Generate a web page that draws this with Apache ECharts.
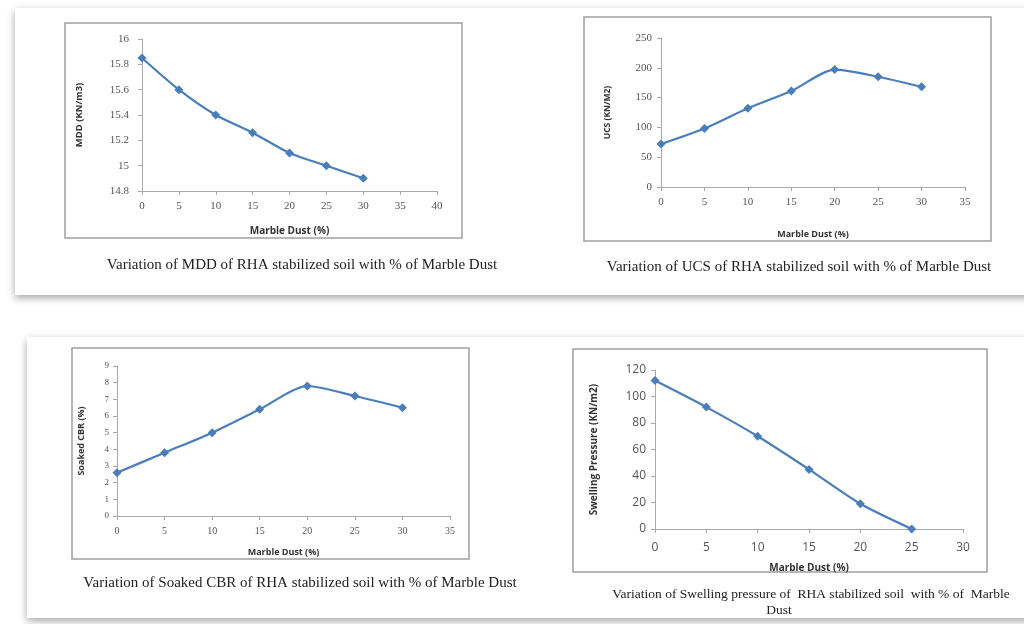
<!DOCTYPE html>
<html><head><meta charset="utf-8">
<script src="https://cdn.jsdelivr.net/npm/echarts@6/dist/echarts.min.js"></script>
<style>html,body{margin:0;padding:0;background:#fff}#c{width:1024px;height:624px}</style>
</head><body><div id="c"></div>
<script>
const marbleDust = [0, 5, 10, 15, 20, 25, 30];
const mddValues = [15.85, 15.6, 15.4, 15.26, 15.1, 15.0, 14.9];
const ucsValues = [72, 98, 132, 161, 197, 185, 168];
const cbrValues = [2.6, 3.8, 5.0, 6.4, 7.8, 7.2, 6.5];
const swellX = [0, 5, 10, 15, 20, 25];
const swellValues = [112, 92, 70, 45, 19, 0];
const captions = [
  'Variation of MDD of RHA stabilized soil with % of Marble Dust',
  'Variation of UCS of RHA stabilized soil with % of Marble Dust',
  'Variation of Soaked CBR of RHA stabilized soil with % of Marble Dust',
  'Variation of Swelling pressure of  RHA stabilized soil  with % of  Marble',
  'Dust'
];
const yTitles = ['MDD (KN/m3)', 'UCS (KN/M2)', 'Soaked CBR (%)', 'Swelling Pressure (KN/m2)'];
const xTitle = 'Marble Dust (%)';

const lineColor = '#4a7ebb';
const axisColor = '#a8a8a8';
const sansFont = 'Open Sans, DejaVu Sans, sans-serif';
const serifFont = '"Liberation Serif", "DejaVu Serif", serif';

const grids = [
  {left: 142, top: 39, width: 295, height: 152},
  {left: 661, top: 38, width: 304, height: 149},
  {left: 117, top: 366, width: 333, height: 150},
  {left: 655, top: 370, width: 308, height: 159}
];
const xCfg = [
  {max: 40, lm: 10, ng: 35, fs: 11, nfs: 10, font: serifFont},
  {max: 35, lm: 10, ng: 43, fs: 11, nfs: 9, font: serifFont},
  {max: 35, lm: 10, ng: 32, fs: 10, nfs: 9, font: serifFont},
  {max: 30, lm: 13, ng: 34, fs: 12, nfs: 10, font: sansFont}
];
const yCfg = [
  {min: 14.8, max: 16, interval: 0.2, lm: 13, ng: 58, fs: 11, nfs: 9.5, font: serifFont},
  {min: 0, max: 250, interval: 50, lm: 9, ng: 49, fs: 11, nfs: 8.5, font: serifFont},
  {min: 0, max: 9, interval: 1, lm: 8, ng: 31, fs: 9, nfs: 9, font: serifFont},
  {min: 0, max: 120, interval: 20, lm: 9, ng: 56, fs: 12, nfs: 10, font: sansFont}
];

const xAxes = xCfg.map((c, i) => ({
  type: 'value', gridIndex: i, min: 0, max: c.max, interval: 5,
  name: xTitle, nameLocation: 'middle', nameGap: c.ng,
  nameTextStyle: {fontFamily: sansFont, fontWeight: 'bold', fontSize: c.nfs, color: '#333'},
  axisLine: {lineStyle: {color: axisColor, width: 1}},
  axisTick: {show: true, inside: false, length: 4, lineStyle: {color: axisColor}},
  axisLabel: {margin: c.lm, fontSize: c.fs, fontFamily: c.font, color: '#555'},
  splitLine: {show: false}
}));
const yAxes = yCfg.map((c, i) => ({
  type: 'value', gridIndex: i, min: c.min, max: c.max, interval: c.interval,
  name: yTitles[i], nameLocation: 'middle', nameGap: c.ng, nameRotate: 90,
  nameTextStyle: {fontFamily: sansFont, fontWeight: 'bold', fontSize: c.nfs, color: '#333'},
  axisLine: {show: true, lineStyle: {color: axisColor, width: 1}},
  axisTick: {show: true, inside: false, length: 4, lineStyle: {color: axisColor}},
  axisLabel: {margin: c.lm, fontSize: c.fs, fontFamily: c.font, color: '#555',
    formatter: v => String(Math.round(v * 100) / 100)},
  splitLine: {show: false}
}));

function pairs(xs, ys) { return xs.map((x, k) => [x, ys[k]]); }
const seriesData = [
  pairs(marbleDust, mddValues),
  pairs(marbleDust, ucsValues),
  pairs(marbleDust, cbrValues),
  pairs(swellX, swellValues)
];
const series = seriesData.map((d, i) => ({
  type: 'line', xAxisIndex: i, yAxisIndex: i, data: d, smooth: 0.25,
  symbol: 'diamond', symbolSize: 9,
  lineStyle: {color: lineColor, width: 2.2},
  itemStyle: {color: lineColor},
  animation: false
}));

const cardShadow = {shadowBlur: 8, shadowColor: 'rgba(0,0,0,0.35)', shadowOffsetY: 3};
const graphic = [
  {type: 'rect', shape: {x: 15, y: 8, width: 1020, height: 287}, style: Object.assign({fill: '#fff'}, cardShadow), z: -10},
  {type: 'rect', shape: {x: 27, y: 337, width: 1010, height: 281}, style: Object.assign({fill: '#fff'}, cardShadow), z: -10},
  {type: 'rect', shape: {x: 65, y: 23, width: 397, height: 215}, style: {fill: 'none', stroke: '#a0a0a0', lineWidth: 1.5}, z: -5},
  {type: 'rect', shape: {x: 584, y: 17, width: 407, height: 224}, style: {fill: 'none', stroke: '#a0a0a0', lineWidth: 1.5}, z: -5},
  {type: 'rect', shape: {x: 72, y: 348, width: 397, height: 211}, style: {fill: 'none', stroke: '#a0a0a0', lineWidth: 1.5}, z: -5},
  {type: 'rect', shape: {x: 573, y: 349, width: 414, height: 223}, style: {fill: 'none', stroke: '#a0a0a0', lineWidth: 1.5}, z: -5}
];
const capPos = [
  {x: 302, y: 265, fs: 15}, {x: 799, y: 267, fs: 15}, {x: 300, y: 583, fs: 15},
  {x: 811, y: 594, fs: 13.5}, {x: 779, y: 610, fs: 13.5}
];
captions.forEach((t, i) => {
  graphic.push({type: 'text', x: capPos[i].x, y: capPos[i].y,
    style: {text: t, fill: '#222', font: capPos[i].fs + 'px "Liberation Serif", "Times New Roman", serif',
      textAlign: 'center', textVerticalAlign: 'middle'}});
});

const chart = echarts.init(document.getElementById('c'), null, {renderer: 'canvas'});
chart.setOption({
  backgroundColor: '#ffffff',
  animation: false,
  grid: grids,
  xAxis: xAxes,
  yAxis: yAxes,
  series: series,
  graphic: graphic
});
</script></body></html>
